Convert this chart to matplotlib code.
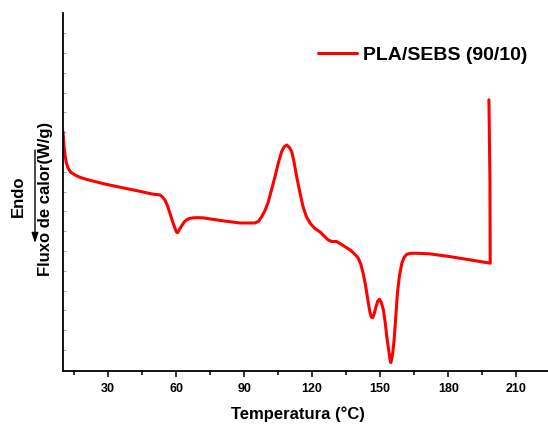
import matplotlib
matplotlib.use("Agg")
import matplotlib.pyplot as plt
from matplotlib.ticker import MultipleLocator
from matplotlib.patches import FancyArrowPatch

plt.rcParams['font.family'] = ['Liberation Sans', 'DejaVu Sans']
plt.rcParams['font.weight'] = 'bold'

# DSC heating curve of the PLA/SEBS (90/10) blend
temperatura = [10.13, 10.50, 10.88, 11.50, 12.34, 13.50, 15.30, 18.00, 21.17, 28.54,
               35.92, 43.25, 49.16, 51.00, 52.83, 54.00, 55.03, 56.20, 57.24, 58.40,
               59.45, 60.10, 60.64, 61.30, 62.41, 63.50, 64.61, 66.00, 67.40, 69.50,
               71.81, 80.64, 88.15, 94.77, 96.40, 97.73, 99.10, 100.51, 102.00, 103.60,
               105.10, 106.56, 107.60, 108.76, 109.90, 110.97, 112.00, 113.18, 114.60, 115.96,
               117.50, 119.05, 121.00, 123.47, 125.00, 127.00, 128.50, 130.84, 133.70, 136.71,
               138.50, 140.24, 141.40, 142.45, 143.30, 144.08, 144.80, 145.54, 146.10, 146.73,
               147.40, 148.19, 148.90, 149.65, 150.50, 151.41, 152.20, 152.91, 153.80, 154.30,
               154.68, 155.10, 155.60, 156.14, 156.90, 157.59, 158.50, 159.54, 160.60, 161.74,
               163.50, 166.16, 172.03, 180.86, 198.52, 198.40, 197.95]
fluxo = [11.03, 10.40, 9.95, 9.50, 9.19, 8.98, 8.84, 8.70, 8.59, 8.38,
         8.20, 8.03, 7.88, 7.85, 7.83, 7.72, 7.58, 7.28, 6.92, 6.50,
         6.16, 5.97, 5.92, 6.05, 6.26, 6.45, 6.57, 6.64, 6.67, 6.68,
         6.67, 6.52, 6.41, 6.41, 6.50, 6.72, 7.02, 7.42, 8.05, 8.74,
         9.45, 10.02, 10.25, 10.35, 10.23, 10.02, 9.50, 8.75, 7.95, 7.24,
         6.72, 6.41, 6.15, 5.96, 5.78, 5.56, 5.48, 5.47, 5.27, 5.05,
         4.87, 4.65, 4.35, 3.89, 3.40, 2.88, 2.35, 1.87, 1.66, 1.63,
         1.84, 2.19, 2.46, 2.56, 2.40, 2.02, 1.40, 0.67, -0.05, -0.45,
         -0.64, -0.45, -0.10, 0.50, 1.70, 2.86, 3.75, 4.38, 4.68, 4.83,
         4.88, 4.88, 4.85, 4.71, 4.38, 8.50, 12.63]
serie = 'PLA/SEBS (90/10)'
x_ticks = [30, 60, 90, 120, 150, 180, 210]

W, H = 548, 426
fig = plt.figure(figsize=(W / 100, H / 100), dpi=100)
ax = fig.add_axes([62.7 / W, 1 - 370.7 / H, (W - 62.7) / W, (370.7 - 13.3) / H])

ax.plot(temperatura, fluxo, color='#ff0000', lw=2.2, label=serie,
        solid_joinstyle='round', solid_capstyle='round')

ax.set_xlim(10, 224)
ax.set_ylim(-1.05, 17.0)
ax.set_xticks(x_ticks)
ax.xaxis.set_minor_locator(MultipleLocator(15))
ax.set_yticks(range(0, 17))
ax.set_yticklabels([])

for s in ('top', 'right'):
    ax.spines[s].set_visible(False)
for s in ('left', 'bottom'):
    ax.spines[s].set_linewidth(1.3)

ax.tick_params(axis='x', which='both', direction='out', length=4, width=1.1,
               labelsize=9, pad=5)
ax.tick_params(axis='x', which='minor', length=3)
ax.tick_params(axis='y', which='major', direction='in', length=2, width=0.6,
               color='#999999')
for lab in ax.get_xticklabels():
    lab.set_fontweight('bold')

ax.legend(loc='center left', bbox_to_anchor=(317.7 / W, 1 - 55 / H),
          bbox_transform=fig.transFigure, frameon=False, borderpad=0,
          borderaxespad=0, handlelength=2.0, handletextpad=0.35,
          prop={'size': 14, 'weight': 'bold'})

fig.text(298 / W, 1 - 414 / H, 'Temperatura (°C)', ha='center', va='center',
         fontsize=12, fontweight='bold')
fig.text(45.5 / W, 1 - 199 / H, 'Fluxo de calor(W/g)', ha='center', va='center',
         rotation=90, fontsize=12, fontweight='bold')
fig.text(18 / W, 1 - 196 / H, 'Endo', ha='center', va='center',
         rotation=90, fontsize=12, fontweight='bold')
fig.add_artist(FancyArrowPatch(
    (35 / W, 1 - 150 / H), (35 / W, 1 - 243 / H), transform=fig.transFigure,
    arrowstyle='-|>,head_length=6,head_width=2', mutation_scale=1,
    color='black', lw=1.0, shrinkA=0, shrinkB=0))

fig.savefig('out.png', dpi=100)
